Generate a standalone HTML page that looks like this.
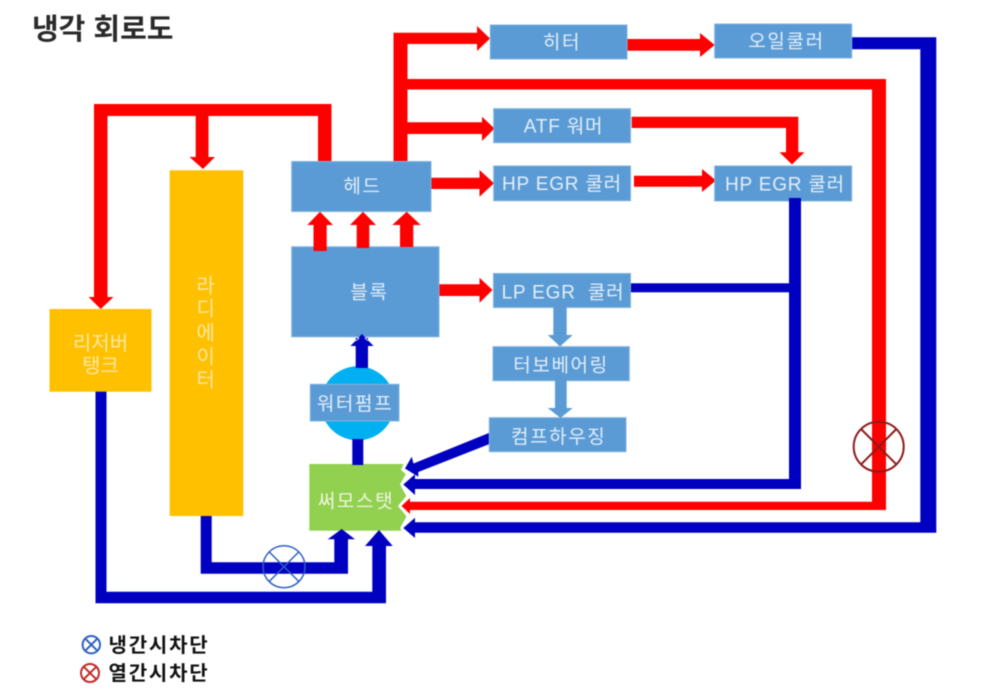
<!DOCTYPE html>
<html lang="ko">
<head>
<meta charset="utf-8">
<title>냉각 회로도</title>
<style>
html,body{margin:0;padding:0;background:#fff;width:1000px;height:698px;overflow:hidden}
svg{display:block;filter:blur(.45px)}
text{font-family:"Liberation Sans","Noto Sans CJK KR","NanumGothic",sans-serif}
.l{font-size:19px;fill:#e3eef8;text-anchor:middle;dominant-baseline:central;letter-spacing:1.6px}
.m{font-size:19px;fill:#e3eef8;text-anchor:middle;dominant-baseline:central;letter-spacing:.8px}
.y{font-size:20px;fill:#ffe8a6;text-anchor:middle;dominant-baseline:central}
.b{fill:#5b9bd5;stroke:#7fb2e0;stroke-width:1}
.o{fill:#ffc000}
.r{fill:#ff0000}
.d{fill:#0000c0}
</style>
</head>
<body>
<svg width="1000" height="698" viewBox="0 0 1000 698" xmlns="http://www.w3.org/2000/svg">
<rect width="1000" height="698" fill="#fff"/>

<text x="32" y="39" font-size="29" font-weight="700" fill="#2a2a2a">냉각 회로도</text>

<!-- thermostat -->
<rect x="309.3" y="464" width="96.7" height="66.7" fill="#92d050"/>
<g fill="#fff">
  <polygon points="408,470 400,484.5 408,499"/>
  <polygon points="408,494 398,506 408,518"/>
  <polygon points="408,514 400,528 408,542"/>
  <polygon points="408,454 401,470 408,476"/>
</g>

<!-- red pipes -->
<g class="r">
  <polygon points="94,104 331.5,104 331.5,162 318,162 318,116 208.5,116 208.5,157 215,157 203,169 189.5,157 195.7,157 195.7,116 107.5,116 107.5,297 113.5,297 100.7,309 88.5,297 94,297"/>
  <polygon points="393.5,162 393.5,32.7 477,32.7 477,26 490,38.5 477,51 477,44 407.5,44 407.5,79 886,79 886,510 410,510 410,514 401.5,506 410,498 410,501.7 872,501.7 872,89.5 407.5,89.5 407.5,122.3 482,122.3 482,116.7 494.5,128.5 482,141 482,134 407.5,134 407.5,162"/>
  <polygon points="431,177.7 479.5,177.7 479.5,170 494,183.3 479.5,196.7 479.5,189 431,189"/>
  <polygon points="627,39 700,39 700,33 714.7,45 700,57 700,50.7 627,50.7"/>
  <polygon points="631.7,116.7 798.3,116.7 798.3,152.3 804.5,152.3 792,164.5 779.5,152.3 786,152.3 786,128 631.7,128"/>
  <polygon points="634,175.7 702,175.7 702,169 716,180.5 702,192 702,186.7 634,186.7"/>
  <polygon points="439,284.3 479.5,284.3 479.5,277.7 492.5,290 479.5,302.7 479.5,296 439,296"/>
</g>

<!-- blue pipes -->
<g class="d">
  <polygon points="851,37.3 936.3,37.3 936.3,532.7 415,532.7 415,538 403.3,528 415,517.7 415,522.3 920.3,522.3 920.3,49.3 851,49.3"/>
  <polygon points="789,200 801,200 801,489 415,489 415,495 403.3,484.5 415,474.3 415,479 789,479"/>
  <rect x="630" y="283.3" width="162" height="9"/>
  <polygon points="489.5,432.7 489.5,444 418.3,472 418.3,476.7 405,468.5 411.7,456.7 413.5,463.5"/>
  <polygon points="95.5,391 106.5,391 106.5,591.7 372.3,591.7 372.3,546 365,546 379,530 392.7,546 386,546 386,603.3 95.5,603.3"/>
  <polygon points="200.7,515 211.7,515 211.7,562.3 334.3,562.3 334.3,539.3 327.7,539.3 341.7,529 355,539.3 348,539.3 348,573.7 200.7,573.7"/>
</g>

<!-- pump circle -->
<circle cx="357.7" cy="403.3" r="37" fill="#00b0f0"/>
<rect class="d" x="352.3" y="439" width="11" height="26"/>
<polygon class="d" points="355.7,368 355.7,346 350.5,346 362,336 373.5,346 368,346 368,368"/>

<!-- boxes -->
<rect class="o" x="49.5" y="309" width="102" height="82.7"/>
<rect class="o" x="169.7" y="170.3" width="73.6" height="345.7"/>
<rect class="b" x="291.7" y="161.5" width="139.3" height="50"/>
<rect class="b" x="291.7" y="246.8" width="147.3" height="90"/>
<rect class="b" x="490.3" y="25" width="136.7" height="34"/>
<rect class="b" x="714.7" y="24" width="137" height="34"/>
<rect class="b" x="493.7" y="108.7" width="136.8" height="34"/>
<rect class="b" x="493.7" y="166" width="136.8" height="34.7"/>
<rect class="b" x="714.7" y="166" width="137" height="35"/>
<rect class="b" x="493.5" y="273.5" width="137" height="34"/>
<rect class="b" x="493" y="346.7" width="136.3" height="34"/>
<rect class="b" x="489.3" y="417.7" width="136.7" height="34"/>
<rect class="b" x="310.3" y="384.3" width="88.7" height="36.7"/>

<!-- items over boxes -->
<g class="r">
  <polygon points="313.5,251 313.5,225 307.3,225 320,211.7 333,225 326.7,225 326.7,251"/>
  <polygon points="356.7,248 356.7,225 350,225 363,211.7 376,225 369.3,225 369.3,248"/>
  <polygon points="400,247 400,225 392.3,225 406.7,211.7 420.7,225 413.3,225 413.3,247"/>
</g>
<rect class="d" x="789" y="198" width="12" height="4"/>
<polygon class="d" points="355.7,338 355.7,346 350.5,346 362,334 373.5,346 368,346 368,338"/>

<!-- light arrows -->
<polygon fill="#5b9bd5" points="553.3,307 566.7,307 566.7,335 572.7,335 560,346.5 547.7,335 553.3,335"/>
<polygon fill="#5b9bd5" points="555,380 566.7,380 566.7,408 572.7,408 560.5,418 547.7,408 555,408"/>

<!-- labels -->
<text class="l" x="362.5" y="187">헤드</text>
<text class="l" x="369.5" y="293">블록</text>
<text class="l" x="562" y="43">히터</text>
<text class="l" x="786.5" y="42">오일쿨러</text>
<text class="m" x="563.5" y="127">ATF 워머</text>
<text class="m" x="562" y="184.5">HP EGR 쿨러</text>
<text class="m" x="785" y="185">HP EGR 쿨러</text>
<text class="m" x="563" y="293" xml:space="preserve">LP EGR  쿨러</text>
<text class="l" x="561" y="366">터보베어링</text>
<text class="l" x="558.7" y="437.5">컴프하우징</text>
<text class="l" x="355" y="404.5">워터펌프</text>
<text class="l" x="356" y="502" style="fill:#eef7e0">써모스탯</text>

<text class="y" x="100.5" y="344">리저버</text>
<text class="y" x="100.5" y="366.5">탱크</text>
<text class="y" x="205.7" y="286.5">라</text>
<text class="y" x="205.7" y="309.5">디</text>
<text class="y" x="205.7" y="333.5">에</text>
<text class="y" x="205.7" y="357.5">이</text>
<text class="y" x="205.7" y="380.5">터</text>

<!-- valves -->
<g fill="none" stroke="#2f5fc4" stroke-width="1.5">
  <circle cx="284" cy="566.7" r="21"/>
  <path d="M269.2 551.9L298.8 581.5M298.8 551.9L269.2 581.5"/>
</g>
<g fill="none" stroke="#8f1a1a" stroke-width="2">
  <circle cx="878.7" cy="446.7" r="25"/>
  <path d="M861 429L896.4 464.4M896.4 429L861 464.4"/>
</g>

<!-- legend -->
<g fill="none" stroke="#2f5fc4" stroke-width="2">
  <circle cx="91.3" cy="644.7" r="8.7"/>
  <path d="M85.2 638.6L97.4 650.8M97.4 638.6L85.2 650.8"/>
</g>
<g fill="none" stroke="#c22a2a" stroke-width="2">
  <circle cx="90" cy="673" r="9"/>
  <path d="M83.7 666.7L96.3 679.3M96.3 666.7L83.7 679.3"/>
</g>
<text x="108.5" y="652" font-size="20" font-weight="700" letter-spacing="1.8" fill="#111">냉간시차단</text>
<text x="108.5" y="680" font-size="20" font-weight="700" letter-spacing="1.8" fill="#111">열간시차단</text>
</svg>
</body>
</html>
